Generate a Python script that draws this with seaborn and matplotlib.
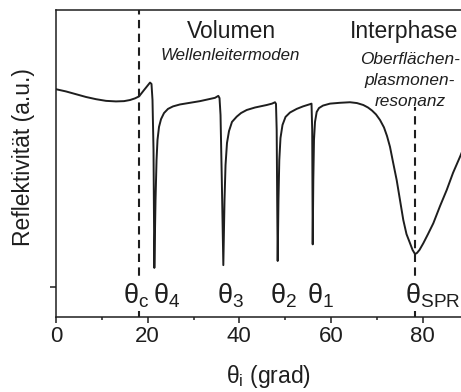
import matplotlib
matplotlib.use("Agg")
import matplotlib.pyplot as plt
import pandas as pd
import seaborn as sns
from matplotlib.ticker import MultipleLocator

# Reflectivity scan (angle of incidence in degrees, reflectivity in a.u.)
theta_deg = [
    0.00, 2.18, 4.36, 6.54, 8.73, 10.91, 13.09, 14.84, 16.14, 17.23,
    18.11, 19.20, 20.51, 20.83, 21.05, 21.27, 21.45, 21.71, 21.93, 22.14,
    22.47, 22.91, 23.56, 24.43, 25.52, 27.04, 29.23, 31.41, 33.60, 34.69,
    35.41, 35.67, 35.89, 36.17, 36.50, 36.76, 36.98, 37.30, 37.74, 38.39,
    39.42, 40.36, 41.60, 43.41, 45.96, 47.12, 47.77, 47.99, 48.14, 48.25,
    48.36, 48.53, 48.71, 48.97, 49.41, 50.07, 51.05, 52.51, 53.88, 55.41,
    55.74, 55.89, 56.00, 56.13, 56.28, 56.50, 56.87, 57.37, 58.25, 59.77,
    61.95, 64.14, 65.66, 67.04, 68.06, 68.94, 69.81, 70.68, 71.55, 72.21,
    72.86, 73.52, 74.32, 75.04, 75.76, 76.46, 77.23, 77.78, 78.32, 78.75,
    79.30, 80.13, 81.15, 82.31, 83.77, 85.23, 86.61, 88.13, 90.00,
]
reflectivity = [
    71.4, 70.6, 69.6, 68.6, 67.8, 67.2, 67.0, 67.1, 67.5, 68.1,
    68.8, 71.1, 73.8, 73.3, 67.5, 49.5, 6.9, 31.4, 45.8, 53.1,
    57.8, 60.6, 62.8, 64.3, 65.2, 65.9, 66.5, 67.1, 67.9, 68.3,
    69.0, 68.2, 62.1, 38.6, 7.9, 31.4, 44.0, 52.0, 56.3, 59.6,
    61.5, 62.8, 63.9, 64.8, 65.7, 66.2, 66.7, 66.1, 56.7, 31.4,
    9.4, 31.4, 45.8, 53.8, 58.5, 61.4, 63.0, 64.3, 65.2, 66.0,
    66.2, 56.7, 15.4, 38.6, 53.1, 59.6, 63.2, 64.6, 65.5, 66.2,
    66.5, 66.7, 66.4, 65.7, 64.8, 63.7, 62.3, 60.3, 57.6, 54.5,
    50.6, 45.1, 38.6, 31.4, 24.2, 19.1, 15.8, 13.4, 11.9, 12.3,
    13.4, 15.8, 19.1, 23.0, 29.2, 35.0, 41.2, 47.0, 54.5,
]

critical_angle = 18.1
spr_angle = 78.3

mode_labels = [r"$θ_{c}$", r"$θ_{4}$", r"$θ_{3}$", r"$θ_{2}$", r"$θ_{1}$", r"$θ_{SPR}$"]
x_ticks = [0, 20, 40, 60, 80]
x_tick_labels = ["0", "20", "40", "60", "80"]

sns.set_style("ticks")
plt.rcParams["font.family"] = ["Liberation Sans", "DejaVu Sans"]
plt.rcParams["mathtext.fontset"] = "custom"
plt.rcParams["mathtext.rm"] = "Liberation Sans"
plt.rcParams["mathtext.it"] = "Liberation Sans:italic"
plt.rcParams["mathtext.default"] = "regular"

ink = "#1e1e1e"

fig = plt.figure(figsize=(4.61, 3.92), dpi=100)
ax = fig.add_axes([0.1215, 0.1913, 0.8949, 0.7832])

scan = pd.DataFrame({"theta": theta_deg, "R": reflectivity})
sns.lineplot(data=scan, x="theta", y="R", ax=ax, color=ink, lw=1.4,
             sort=False, estimator=None, zorder=3)

dash_style = dict(color=ink, lw=1.5, dashes=(4, 2.6), zorder=2)
ax.axvline(critical_angle, **dash_style)
ax.axvline(spr_angle, ymax=0.684, **dash_style)

ax.set_xlim(0, 90)
ax.set_ylim(-10.83, 100)
ax.set_xticks(x_ticks)
ax.set_xticklabels(x_tick_labels)
ax.xaxis.set_minor_locator(MultipleLocator(10))
ax.set_yticks([0])
ax.set_yticklabels([""])

for side in ["left", "bottom", "top", "right"]:
    ax.spines[side].set_linewidth(1.1)
    ax.spines[side].set_color(ink)

ax.tick_params(axis="both", which="major", direction="out", length=4.5,
               width=1.1, color=ink, labelsize=16, labelcolor=ink, pad=2)
ax.tick_params(axis="x", which="minor", direction="out", length=2.5,
               width=1.1, color=ink)

ax.set_xlabel(r"$θ_{i}$ (grad)", fontsize=16.5, color=ink)
ax.xaxis.set_label_coords(0.514, -0.195)
ax.xaxis.label.set_verticalalignment("center")
ax.set_ylabel("Reflektivität (a.u.)", fontsize=16.5, color=ink)
ax.yaxis.set_label_coords(-0.079, 0.52)
ax.yaxis.label.set_verticalalignment("center")

# Angle labels under the resonance dips
label_x = [14.55, 21.2, 35.1, 46.7, 54.7, 76.1]
box = dict(facecolor="white", edgecolor="none", pad=0.6)
for txt, xpos in zip(mode_labels, label_x):
    ax.text(xpos, -6.1, txt, fontsize=19.5, color=ink, ha="left",
            va="baseline", bbox=box, zorder=4)

# Region headings
ax.text(38.2, 89.9, "Volumen", fontsize=16.5, color=ink, ha="center", va="baseline")
ax.text(38.0, 81.9, "Wellenleitermoden", fontsize=12.2, style="italic",
        color=ink, ha="center", va="baseline")
ax.text(64.1, 89.9, "Interphase", fontsize=16.5, color=ink, ha="left", va="baseline")
for line, base in zip(["Oberflächen-", "plasmonen-", "resonanz"], [80.5, 72.8, 65.3]):
    ax.text(77.2, base, line, fontsize=12.4, style="italic", color=ink,
            ha="center", va="baseline")

fig.savefig("out.png", dpi=100)
